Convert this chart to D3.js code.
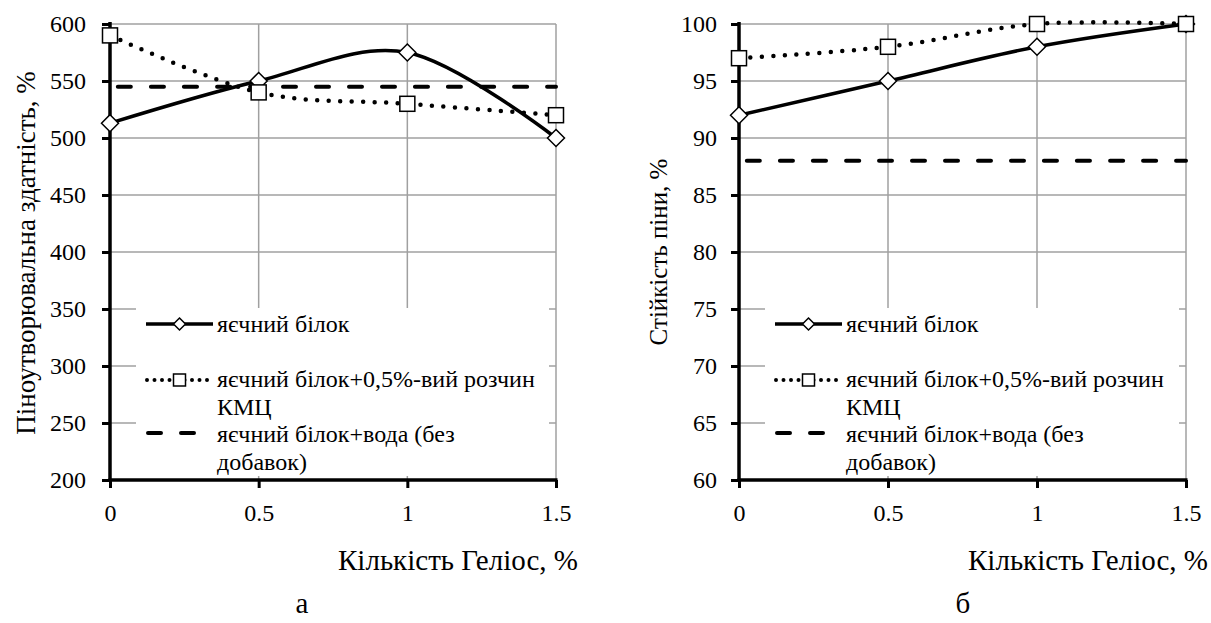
<!DOCTYPE html>
<html>
<head>
<meta charset="utf-8">
<script src="https://cdn.jsdelivr.net/npm/d3@7"></script>
<style>
  html, body { margin: 0; padding: 0; background: #fff; }
  svg { display: block; }
</style>
</head>
<body>
<div id="visContainer"></div>
<script>
const width = 1211;
const height = 623;

// data
const heliosLevels = [0, 0.5, 1, 1.5];
const xTickValues = [0, 0.5, 1, 1.5];

const foamEgg = [513, 550, 575, 500];
const foamCmc = [590, 540, 530, 520];
const foamWater = [545, 545, 545, 545];
const foamTicks = [200, 250, 300, 350, 400, 450, 500, 550, 600];

const stabEgg = [92, 95, 98, 100];
const stabCmc = [97, 98, 100, 100];
const stabWater = [88, 88, 88, 88];
const stabTicks = [60, 65, 70, 75, 80, 85, 90, 95, 100];

const seriesNames = [
  ["яєчний білок"],
  ["яєчний білок+0,5%-вий розчин", "КМЦ"],
  ["яєчний білок+вода (без", "добавок)"]
];

const xTitle = "Кількість Геліос, %";

const FONT = "Liberation Serif, Times New Roman, serif";

const svg = d3.select("#visContainer")
  .append("svg")
  .attr("width", width)
  .attr("height", height)
  .attr("font-family", FONT);

const gridColor = "#a0a0a0";

function diamond(g, x, y, r) {
  g.append("path")
    .attr("d", `M${x},${y - r}L${x + r},${y}L${x},${y + r}L${x - r},${y}Z`)
    .attr("fill", "#fff").attr("stroke", "#000").attr("stroke-width", 1.5);
}

function square(g, x, y, s) {
  g.append("rect")
    .attr("x", x - s / 2).attr("y", y - s / 2)
    .attr("width", s).attr("height", s)
    .attr("fill", "#fff").attr("stroke", "#000").attr("stroke-width", 1.5);
}

function label(sel, size) {
  return sel.attr("font-family", FONT).attr("font-size", size).attr("fill", "#000");
}

function drawPanel(p) {
  const x = d3.scaleLinear().domain([0, 1.5]).range([p.left, p.right]);
  const y = d3.scaleLinear().domain(d3.extent(p.yTicks)).range([480, 24]);
  const g = svg.append("g");

  // grid
  g.selectAll(".hgrid").data(p.yTicks).join("line")
    .attr("x1", p.left).attr("x2", p.right)
    .attr("y1", d => y(d)).attr("y2", d => y(d))
    .attr("stroke", gridColor).attr("stroke-width", 1.5);
  g.selectAll(".vgrid").data(xTickValues.slice(1)).join("line")
    .attr("x1", d => x(d)).attr("x2", d => x(d))
    .attr("y1", y.range()[1]).attr("y2", y.range()[0])
    .attr("stroke", gridColor).attr("stroke-width", 1.5);

  // axes
  const yAxis = g.append("g")
    .attr("transform", `translate(${p.left},0)`)
    .call(d3.axisLeft(y).tickValues(p.yTicks).tickSize(8).tickPadding(p.yPad));
  const xAxis = g.append("g")
    .attr("transform", `translate(0,480)`)
    .call(d3.axisBottom(x).tickValues(xTickValues).tickSize(8).tickPadding(16)
      .tickFormat(d3.format("")));
  [yAxis, xAxis].forEach(a => {
    a.attr("font-family", FONT).attr("font-size", 24);
    a.select(".domain").remove();
    a.selectAll(".tick line").attr("stroke", "#000").attr("stroke-width", 3);
    label(a.selectAll(".tick text"), 24);
  });
  g.append("line").attr("x1", p.left).attr("x2", p.left).attr("y1", 22).attr("y2", 481.5)
    .attr("stroke", "#000").attr("stroke-width", 3.5);
  g.append("line").attr("x1", p.left - 1.5).attr("x2", p.right + 1.5).attr("y1", 480).attr("y2", 480)
    .attr("stroke", "#000").attr("stroke-width", 3.5);

  // legend box (drawn before series, series stay on top)
  const lg = g.append("g");
  lg.append("rect")
    .attr("x", p.left + 26).attr("y", 308)
    .attr("width", p.right - p.left - 33).attr("height", 168)
    .attr("fill", "#fff");

  const line = d3.line()
    .x((d, i) => x(heliosLevels[i]))
    .y(d => y(d))
    .curve(d3.curveCardinal.tension(0));

  // dashed
  g.append("path").datum(p.water).attr("d", line)
    .attr("fill", "none").attr("stroke", "#000").attr("stroke-width", 4)
    .attr("stroke-dasharray", "13 20").attr("stroke-dashoffset", -8)
    .attr("stroke-linecap", "round");
  // solid
  g.append("path").datum(p.egg).attr("d", line)
    .attr("fill", "none").attr("stroke", "#000").attr("stroke-width", 3.5);
  // dotted
  g.append("path").datum(p.cmc).attr("d", line)
    .attr("fill", "none").attr("stroke", "#000").attr("stroke-width", 4.5)
    .attr("stroke-dasharray", "0 11.5").attr("stroke-linecap", "round");

  p.egg.forEach((v, i) => diamond(g, x(heliosLevels[i]), y(v), 8.5));
  p.cmc.forEach((v, i) => square(g, x(heliosLevels[i]), y(v), 15));

  // legend entries
  const sx0 = p.left + 36, sx1 = p.left + 103, tx = p.left + 107;
  const baselines = [332, 387, 442];
  const sm = (sx0 + sx1) / 2;
  // solid sample
  lg.append("line").attr("x1", sx0).attr("x2", sx1)
    .attr("y1", baselines[0] - 8).attr("y2", baselines[0] - 8)
    .attr("stroke", "#000").attr("stroke-width", 3.5);
  diamond(lg, sm, baselines[0] - 8, 6);
  // dotted sample
  lg.append("line").attr("x1", sx0 + 1).attr("x2", sx1)
    .attr("y1", baselines[1] - 7).attr("y2", baselines[1] - 7)
    .attr("stroke", "#000").attr("stroke-width", 4)
    .attr("stroke-dasharray", "0 7.5").attr("stroke-linecap", "round");
  square(lg, sm, baselines[1] - 7, 12);
  // dashed sample
  lg.append("line").attr("x1", sx0 + 2).attr("x2", sx1)
    .attr("y1", baselines[2] - 9).attr("y2", baselines[2] - 9)
    .attr("stroke", "#000").attr("stroke-width", 4)
    .attr("stroke-dasharray", "13 20").attr("stroke-linecap", "round");

  seriesNames.forEach((lines, i) => {
    const t = label(lg.append("text"), 24).attr("x", tx).attr("y", baselines[i]);
    lines.forEach((s, j) => {
      t.append("tspan").attr("x", tx).attr("dy", j === 0 ? 0 : 28).text(s);
    });
  });

  // titles
  label(svg.append("text"), p.yTitleSize)
    .attr("transform", `translate(${p.yTitleX},${p.yTitleY}) rotate(-90)`)
    .attr("text-anchor", "middle")
    .text(p.yTitle);
  label(svg.append("text"), 29)
    .attr("x", p.right + 22).attr("y", 570)
    .attr("text-anchor", "end")
    .text(xTitle);
  label(svg.append("text"), 29)
    .attr("x", p.captionX).attr("y", 613)
    .attr("text-anchor", "middle")
    .text(p.caption);
}

drawPanel({
  left: 110, right: 556, yPad: 16,
  yTicks: foamTicks,
  egg: foamEgg, cmc: foamCmc, water: foamWater,
  yTitle: "Піноутворювальна здатність, %",
  yTitleSize: 27, yTitleX: 35, yTitleY: 253,
  caption: "а", captionX: 302
});

drawPanel({
  left: 739, right: 1186, yPad: 14,
  yTicks: stabTicks,
  egg: stabEgg, cmc: stabCmc, water: stabWater,
  yTitle: "Стійкість піни, %",
  yTitleSize: 25, yTitleX: 667, yTitleY: 252,
  caption: "б", captionX: 963
});
</script>
</body>
</html>
